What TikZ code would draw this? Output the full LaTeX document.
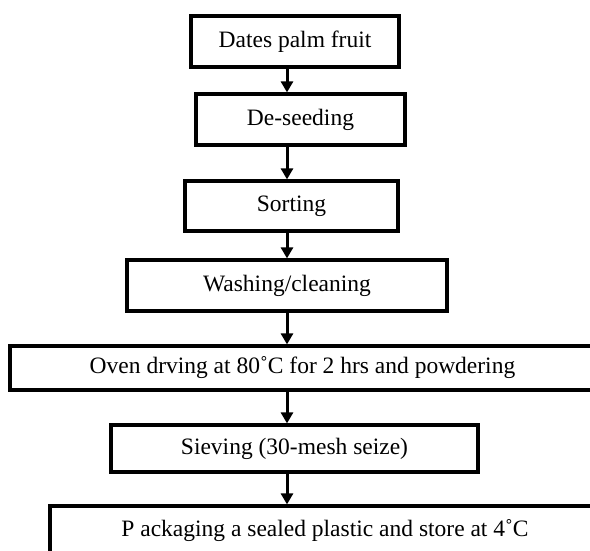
\documentclass[tikz,border=0pt]{standalone}
\usepackage{fontspec}
\setmainfont{Liberation Serif}
\usepackage{tikz}
\usetikzlibrary{arrows.meta}

\begin{document}
\begin{tikzpicture}[x=1pt, y=1pt,
        every node/.style={font=\fontsize{23.5}{28}\selectfont}]
        \tikzstyle{boxStyle} = [rectangle, draw=black, fill=white, line width=3.2pt, inner sep=0pt]
        \tikzstyle{arrowEdge} = [draw=black, line width=3pt, -{Triangle[width=12pt,length=11pt]}]
        \useasboundingbox (0,0) rectangle (590,-551);
        \clip (0,0) rectangle (590,-551);
        \coordinate (axis) at (287,0);
        \node[boxStyle, minimum width=208, minimum height=51] (A) at (295,-41.5) {Dates palm fruit};
        \node[boxStyle, minimum width=209, minimum height=51] (B) at (300.5,-119.5) {De-seeding};
        \node[boxStyle, minimum width=213, minimum height=50] (C) at (291.5,-206) {Sorting};
        \node[boxStyle, minimum width=320, minimum height=51] (D) at (287,-285.5) {Washing/cleaning};
        \node[boxStyle, minimum width=585, minimum height=44] (E) at (302.5,-368) {Oven drving at 80˚C for 2 hrs and powdering};
        \node[boxStyle, minimum width=367, minimum height=47] (F) at (294.5,-448.5) {Sieving (30-mesh seize)};
        \node[boxStyle, minimum width=550, minimum height=50] (G) at (325,-531) {P ackaging a sealed plastic and store at 4˚C};
        \path[arrowEdge] (A.south -| axis) -- (B.north -| axis);
        \path[arrowEdge] (B.south -| axis) -- (C.north -| axis);
        \path[arrowEdge] (C.south -| axis) -- (D.north -| axis);
        \path[arrowEdge] (D.south -| axis) -- (E.north -| axis);
        \path[arrowEdge] (E.south -| axis) -- (F.north -| axis);
        \path[arrowEdge] (F.south -| axis) -- (G.north -| axis);
    \end{tikzpicture}
\end{document}
